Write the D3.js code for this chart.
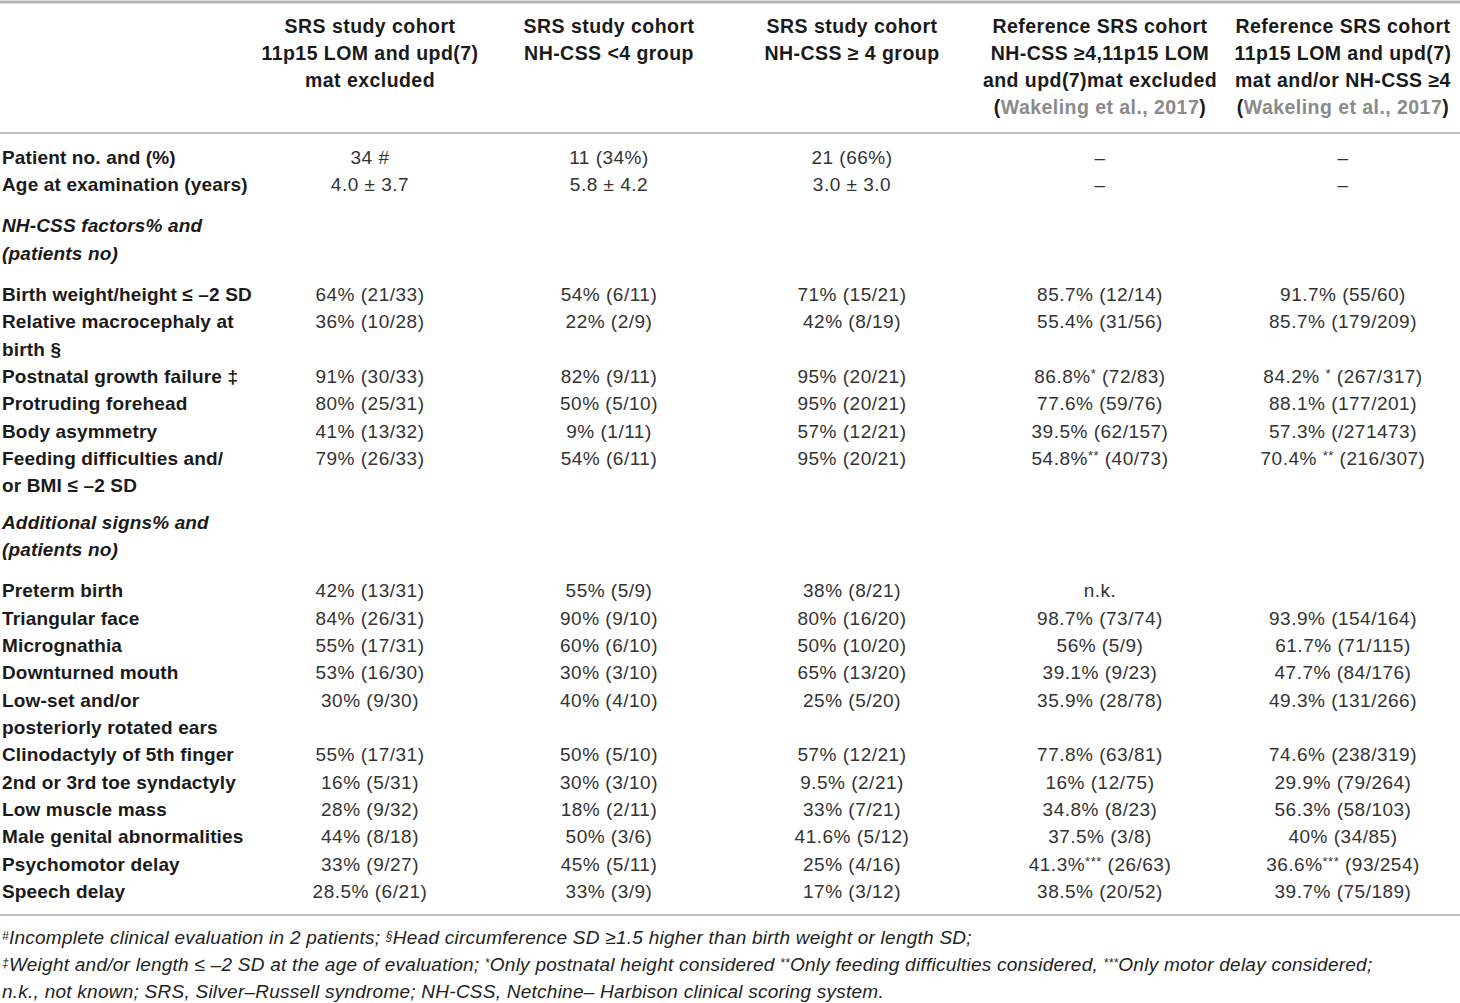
<!DOCTYPE html>
<html>
<head>
<meta charset="utf-8">
<script src="https://cdn.jsdelivr.net/npm/d3@7"></script>
<style>
html,body{margin:0;padding:0;background:#fff;}
svg{display:block;}
text{font-family:"Liberation Sans",Arial,Helvetica,sans-serif;}
</style>
</head>
<body>
<svg id="chart" width="1460" height="1003"></svg>
<script>
// ---------- DATA ----------
const columnHeaders = [
  ["SRS study cohort", "11p15 LOM and upd(7)", "mat excluded"],
  ["SRS study cohort", "NH-CSS <4 group"],
  ["SRS study cohort", "NH-CSS ≥ 4 group"],
  ["Reference SRS cohort", "NH-CSS ≥4,11p15 LOM", "and upd(7)mat excluded", "(Wakeling et al., 2017)"],
  ["Reference SRS cohort", "11p15 LOM and upd(7)", "mat and/or NH-CSS ≥4", "(Wakeling et al., 2017)"]
];
const citation = "Wakeling et al., 2017";

const rowLabels = [
  ["Patient no. and (%)"],
  ["Age at examination (years)"],
  ["NH-CSS factors% and", "(patients no)"],
  ["Birth weight/height ≤ –2 SD"],
  ["Relative macrocephaly at", "birth §"],
  ["Postnatal growth failure ‡"],
  ["Protruding forehead"],
  ["Body asymmetry"],
  ["Feeding difficulties and/", "or BMI ≤ –2 SD"],
  ["Additional signs% and", "(patients no)"],
  ["Preterm birth"],
  ["Triangular face"],
  ["Micrognathia"],
  ["Downturned mouth"],
  ["Low-set and/or", "posteriorly rotated ears"],
  ["Clinodactyly of 5th finger"],
  ["2nd or 3rd toe syndactyly"],
  ["Low muscle mass"],
  ["Male genital abnormalities"],
  ["Psychomotor delay"],
  ["Speech delay"]
];
const rowKinds = ["data","data","section","data","data","data","data","data","data","section",
  "data","data","data","data","data","data","data","data","data","data","data"];

const srsExcluded = ["34 #","4.0 ± 3.7","","64% (21/33)","36% (10/28)","91% (30/33)","80% (25/31)","41% (13/32)","79% (26/33)","",
  "42% (13/31)","84% (26/31)","55% (17/31)","53% (16/30)","30% (9/30)","55% (17/31)","16% (5/31)","28% (9/32)","44% (8/18)","33% (9/27)","28.5% (6/21)"];
const srsBelow4 = ["11 (34%)","5.8 ± 4.2","","54% (6/11)","22% (2/9)","82% (9/11)","50% (5/10)","9% (1/11)","54% (6/11)","",
  "55% (5/9)","90% (9/10)","60% (6/10)","30% (3/10)","40% (4/10)","50% (5/10)","30% (3/10)","18% (2/11)","50% (3/6)","45% (5/11)","33% (3/9)"];
const srsAtLeast4 = ["21 (66%)","3.0 ± 3.0","","71% (15/21)","42% (8/19)","95% (20/21)","95% (20/21)","57% (12/21)","95% (20/21)","",
  "38% (8/21)","80% (16/20)","50% (10/20)","65% (13/20)","25% (5/20)","57% (12/21)","9.5% (2/21)","33% (7/21)","41.6% (5/12)","25% (4/16)","17% (3/12)"];
const refExcluded = ["–","–","","85.7% (12/14)","55.4% (31/56)","86.8%* (72/83)","77.6% (59/76)","39.5% (62/157)","54.8%** (40/73)","",
  "n.k.","98.7% (73/74)","56% (5/9)","39.1% (9/23)","35.9% (28/78)","77.8% (63/81)","16% (12/75)","34.8% (8/23)","37.5% (3/8)","41.3%*** (26/63)","38.5% (20/52)"];
const refAll = ["–","–","","91.7% (55/60)","85.7% (179/209)","84.2% * (267/317)","88.1% (177/201)","57.3% (/271473)","70.4% ** (216/307)","",
  "","93.9% (154/164)","61.7% (71/115)","47.7% (84/176)","49.3% (131/266)","74.6% (238/319)","29.9% (79/264)","56.3% (58/103)","40% (34/85)","36.6%*** (93/254)","39.7% (75/189)"];
const columnValues = [srsExcluded, srsBelow4, srsAtLeast4, refExcluded, refAll];

const footnotes = [
  [["#",true],["Incomplete clinical evaluation in 2 patients; ",false],["§",true],["Head circumference SD ≥1.5 higher than birth weight or length SD;",false]],
  [["‡",true],["Weight and/or length ≤ –2 SD at the age of evaluation; ",false],["*",true],["Only postnatal height considered ",false],["**",true],["Only feeding difficulties considered, ",false],["***",true],["Only motor delay considered;",false]],
  [["n.k., not known; SRS, Silver–Russell syndrome; NH-CSS, Netchine– Harbison clinical scoring system.",false]]
];

// ---------- LAYOUT ----------
const svg = d3.select("#chart");
const W = 1460;
const fontSize = 19;
const lineStep = 27.32;
const extraGapBefore = {2:14, 3:14, 9:9, 10:14};

const colIdx = d3.range(columnHeaders.length);
const xCol = d3.scaleOrdinal().domain(colIdx).range([370, 609, 852, 1100, 1343]);

let lineIndex = 0, gapSum = 0;
const rowPos = rowLabels.map((lines, i) => {
  gapSum += extraGapBefore[i] || 0;
  const r = {line: lineIndex, gap: gapSum};
  lineIndex += lines.length;
  return r;
});
const yLine = d3.scaleLinear().domain([0, 1]).range([157, 157 + lineStep]);
const rowY = (i, k) => yLine(rowPos[i].line + k) + rowPos[i].gap;

const yHead = d3.scaleLinear().domain([0, 1]).range([26, 53]);

// rules
const rules = [
  {y: 2, w: 3, c: "#b3b3b3"},
  {y: 133, w: 1.5, c: "#a6a6a6"},
  {y: 915, w: 1.5, c: "#a6a6a6"}
];
svg.selectAll("line.rule").data(rules).join("line")
  .attr("class", "rule")
  .attr("x1", 0).attr("x2", W)
  .attr("y1", d => d.y).attr("y2", d => d.y)
  .attr("stroke", d => d.c).attr("stroke-width", d => d.w);

// headers
const headG = svg.append("g");
columnHeaders.forEach((lines, c) => {
  lines.forEach((ln, k) => {
    const t = headG.append("text")
      .attr("x", xCol(c)).attr("y", yHead(k))
      .attr("dy", "0.36em")
      .attr("text-anchor", "middle")
      .attr("font-size", 19.5)
      .attr("letter-spacing", 0.45)
      .attr("font-weight", "bold")
      .attr("fill", "#1a1a1a");
    if (ln.includes(citation)) {
      const parts = ln.split(citation);
      t.append("tspan").text(parts[0]);
      t.append("tspan").attr("fill", "#8a8a8a").text(citation);
      t.append("tspan").text(parts[1]);
    } else {
      t.text(ln);
    }
  });
});

// row labels
const labG = svg.append("g");
rowLabels.forEach((lines, i) => {
  lines.forEach((ln, k) => {
    labG.append("text")
      .attr("x", 2).attr("y", rowY(i, k))
      .attr("dy", "0.36em")
      .attr("font-size", fontSize)
      .attr("letter-spacing", 0.15)
      .attr("font-weight", "bold")
      .attr("font-style", rowKinds[i] === "section" ? "italic" : "normal")
      .attr("fill", "#1a1a1a")
      .text(ln);
  });
});

// cells
const cellG = svg.append("g");
columnValues.forEach((vals, c) => {
  vals.forEach((v, i) => {
    if (!v) return;
    const t = cellG.append("text")
      .attr("x", xCol(c)).attr("y", rowY(i, 0))
      .attr("dy", "0.36em")
      .attr("text-anchor", "middle")
      .attr("font-size", fontSize)
      .attr("letter-spacing", 0.5)
      .attr("fill", "#333");
    v.split(/(\*+)/).forEach(p => {
      if (!p) return;
      if (/^\*+$/.test(p)) {
        t.append("tspan").attr("font-size", 13).attr("baseline-shift", "35%").text(p);
      } else {
        t.append("tspan").text(p);
      }
    });
  });
});

// footnotes
const yFoot = d3.scaleLinear().domain([0, 1]).range([937, 964]);
const footG = svg.append("g");
footnotes.forEach((parts, k) => {
  const t = footG.append("text")
    .attr("x", 2).attr("y", yFoot(k))
    .attr("dy", "0.36em")
    .attr("font-size", 19)
    .attr("letter-spacing", 0.25)
    .attr("font-style", "italic")
    .attr("fill", "#222");
  parts.forEach(([txt, sup]) => {
    if (sup) {
      t.append("tspan").attr("font-size", 12).attr("baseline-shift", "35%").text(txt);
    } else {
      t.append("tspan").text(txt);
    }
  });
});
</script>
</body>
</html>
